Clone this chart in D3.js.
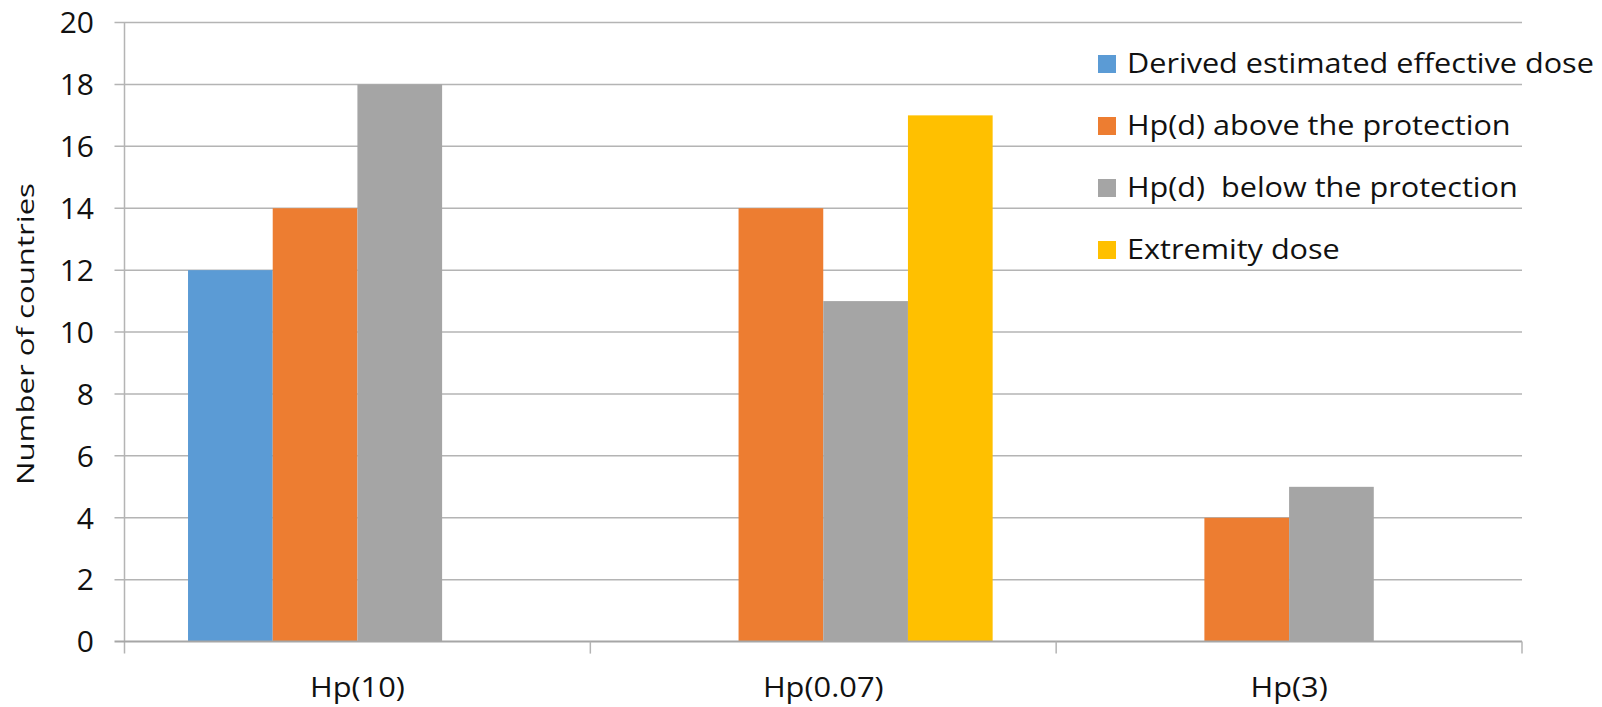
<!DOCTYPE html>
<html>
<head>
<meta charset="utf-8">
<script src="https://cdn.jsdelivr.net/npm/d3@7"></script>
<style>
  html, body { margin: 0; padding: 0; background: #fff; }
  svg { display: block; }
  text { font-family: "Open Sans", Lato, sans-serif; fill: #111; }
</style>
</head>
<body>
<svg id="chart" width="1602" height="707"></svg>
<script>
// Dose quantities on the x axis and the four reporting categories
const categories = ["Hp(10)", "Hp(0.07)", "Hp(3)"];
const seriesNames = [
  "Derived estimated effective dose",
  "Hp(d) above the protection",
  "Hp(d)  below the protection",
  "Extremity dose"
];
const seriesColors = ["#5B9BD5", "#ED7D31", "#A5A5A5", "#FFC000"];

// Number of countries per category, one array per series
const derivedEffective = [12, 0, 0];
const hpAbove = [14, 14, 4];
const hpBelow = [18, 11, 5];
const extremity = [0, 17, 0];
const seriesValues = [derivedEffective, hpAbove, hpBelow, extremity];

const yTicks = [0, 2, 4, 6, 8, 10, 12, 14, 16, 18, 20];
const yTitle = "Number of countries";

const svg = d3.select("#chart");
const plot = { left: 124.5, right: 1522, top: 22.5, bottom: 641.6 };

const x0 = d3.scaleBand()
  .domain(categories)
  .range([plot.left, plot.right])
  .padding(0);

// Clustered bars with a 150% gap between clusters
const barW = x0.bandwidth() / (seriesNames.length + 1.5);
const x1 = d3.scaleBand()
  .domain(d3.range(seriesNames.length))
  .range([0.75 * barW, 0.75 * barW + barW * seriesNames.length])
  .padding(0);

const y = d3.scaleLinear().domain([0, 20]).range([plot.bottom, plot.top]);

const gridColor = "#b4b4b4";

// Stretch a text selection along its writing direction so its length fits
function stretchTo(sel, target, baseTransform) {
  const widest = d3.max(sel.nodes(), n => n.getComputedTextLength());
  const k = target / widest;
  sel.attr("transform", function (d, i) { return baseTransform(d, i) + ` scale(${k},1)`; });
}

// Horizontal gridlines (extend left past the axis as tick marks)
svg.append("g")
  .selectAll("line")
  .data(yTicks.filter(d => d > 0))
  .join("line")
  .attr("x1", plot.left - 10)
  .attr("x2", plot.right)
  .attr("y1", d => y(d))
  .attr("y2", d => y(d))
  .attr("stroke", gridColor)
  .attr("stroke-width", 1.5);

// Bars
const groups = svg.append("g")
  .selectAll("g")
  .data(categories)
  .join("g")
  .attr("transform", d => `translate(${x0(d)},0)`);

groups.selectAll("rect")
  .data((d, i) => seriesValues.map((vals, s) => ({ s, v: vals[i] })).filter(e => e.v > 0))
  .join("rect")
  .attr("x", e => x1(e.s))
  .attr("width", x1.bandwidth())
  .attr("y", e => y(e.v))
  .attr("height", e => y(0) - y(e.v))
  .attr("fill", e => seriesColors[e.s]);

// Value axis line
svg.append("line")
  .attr("x1", plot.left).attr("x2", plot.left)
  .attr("y1", plot.top).attr("y2", plot.bottom + 12)
  .attr("stroke", gridColor).attr("stroke-width", 1.5);

// Category axis baseline and separators
svg.append("line")
  .attr("x1", plot.left - 10).attr("x2", plot.right)
  .attr("y1", y(0)).attr("y2", y(0))
  .attr("stroke", "#a6a6a6").attr("stroke-width", 2);

svg.append("g")
  .selectAll("line")
  .data(categories.slice(1).map(c => x0(c)).concat([plot.right]))
  .join("line")
  .attr("x1", d => d).attr("x2", d => d)
  .attr("y1", y(0)).attr("y2", y(0) + 12)
  .attr("stroke", gridColor).attr("stroke-width", 1.5);

// Tick labels on the value axis
svg.append("g")
  .selectAll("text")
  .data(yTicks)
  .join("text")
  .attr("x", 94)
  .attr("y", d => y(d) + 10.8)
  .attr("text-anchor", "end")
  .style("font-size", "30px")
  .text(d => d);

// Category labels
const catLabels = svg.append("g")
  .selectAll("text")
  .data(categories)
  .join("text")
  .attr("text-anchor", "middle")
  .style("font-size", "27px")
  .text(d => d);
{
  const first = catLabels.filter((d, i) => i === 0).node().getComputedTextLength();
  const k = 95 / first;
  catLabels.attr("transform", d => `translate(${x0(d) + x0.bandwidth() / 2},697) scale(${k},1)`);
}

// Axis title
const title = svg.append("text")
  .attr("text-anchor", "middle")
  .style("font-size", "23px")
  .text(yTitle);
stretchTo(title, 302, () => "translate(34,334) rotate(-90)");

// Legend
const legend = svg.append("g")
  .selectAll("g")
  .data(seriesNames)
  .join("g")
  .attr("transform", (d, i) => `translate(1098,${73 + i * 62})`);

legend.append("rect")
  .attr("x", 0).attr("y", -18)
  .attr("width", 18).attr("height", 18)
  .attr("fill", (d, i) => seriesColors[i]);

const legendText = legend.append("text")
  .style("font-size", "28px")
  .attr("xml:space", "preserve")
  .text(d => d);
stretchTo(legendText, 467, () => "translate(29,0)");
</script>
</body>
</html>
